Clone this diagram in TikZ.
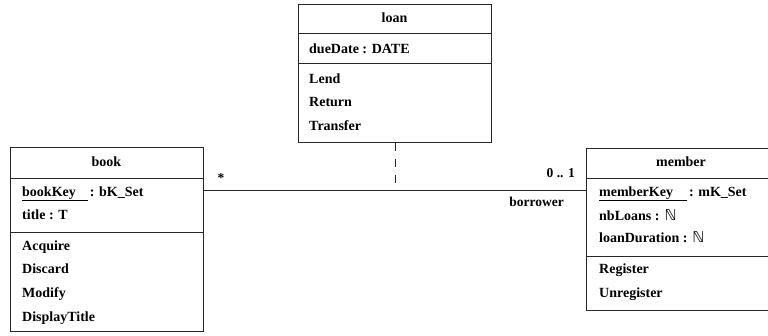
\documentclass[tikz,border=0pt]{standalone}
\usepackage{fontspec}
\setmainfont{Liberation Serif}
\newfontfamily\symfont{DejaVu Sans}
\newcommand{\natset}{{\symfont\mdseries\fontsize{15}{15}\selectfont ℕ}}
\begin{document}
\begin{tikzpicture}[x=1pt,y=-1pt,
  umlbox/.style={draw=black!85,line width=1pt,rectangle,anchor=north west,inner sep=0pt},
  sep/.style={draw=black!85,line width=1pt},
  item/.style={anchor=base west,inner sep=0pt,font=\fontsize{14}{14}\selectfont\bfseries},
  head/.style={anchor=base,inner sep=0pt,font=\fontsize{14}{14}\selectfont\bfseries},
  lab/.style={inner sep=0pt,font=\fontsize{13.5}{13.5}\selectfont\bfseries},
  assoc/.style={draw=black!85,line width=1pt},
  dep/.style={draw=black!85,line width=1pt,dash pattern=on 8pt off 8pt}]
\useasboundingbox (0,0) rectangle (768,335);
% loan
\node[umlbox,minimum width=193pt,minimum height=138pt] (loan) at (298,4) {};
\draw[sep] (298,33) -- (491,33);
\draw[sep] (298,63) -- (491,63);
\node[head] (loant) at (394.5,22) {loan};
\node[item] (loana) at (309,53) {dueDate : DATE};
\node[item] (loanm1) at (309,83) {Lend};
\node[item] (loanm2) at (309,106.5) {Return};
\node[item] (loanm3) at (309,130) {Transfer};
% book
\node[umlbox,minimum width=193pt,minimum height=184pt] (book) at (10,147) {};
\draw[sep] (10,178) -- (203,178);
\draw[sep] (10,232) -- (203,232);
\node[head] (bookt) at (106.5,166.5) {book};
\node[item] (booka1) at (22,196) {\underline{bookKey\hspace{12pt}}\hspace{2pt}: bK\_Set};
\node[item] (booka2) at (22,219.5) {title : T};
\node[item] (bookm1) at (22,250) {Acquire};
\node[item] (bookm2) at (22,273.5) {Discard};
\node[item] (bookm3) at (22,297.5) {Modify};
\node[item] (bookm4) at (22,321.5) {DisplayTitle};
% member
\node[umlbox,minimum width=190pt,minimum height=162pt] (member) at (586,148) {};
\draw[sep] (586,178) -- (776,178);
\draw[sep] (586,256) -- (776,256);
\node[head] (membert) at (681,166.5) {member};
\node[item] (membera1) at (599,196) {\underline{memberKey\hspace{14pt}}\hspace{2pt}: mK\_Set};
\node[item] (membera2) at (599,220) {nbLoans :\hspace{5pt}\natset};
\node[item] (membera3) at (599,242.5) {loanDuration :\hspace{5pt}\natset};
\node[item] (memberm1) at (599,273) {Register};
\node[item] (memberm2) at (599,297) {Unregister};
% association
\path (book.north east) ++(0,43) coordinate (ba);
\draw[assoc] (ba) -- (ba -| member.west);
\draw[dep] (loan.south) -- (loan.south |- ba);
\node[lab,anchor=center] (mult1) at (221,178.5) {*};
\node[lab,anchor=base east] (mult2) at (575,177) {0 .. 1};
\node[lab,anchor=base east] (role) at (564,206) {borrower};
\end{tikzpicture}
\end{document}
